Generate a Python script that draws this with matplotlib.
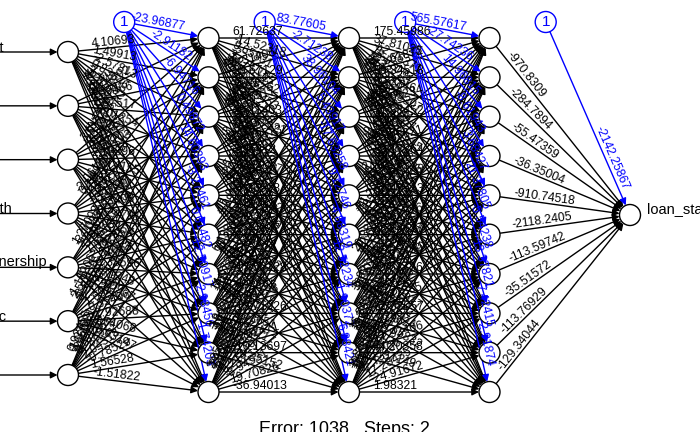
import numpy as np
import matplotlib
matplotlib.use("Agg")
import matplotlib.pyplot as plt
from matplotlib.patches import Circle

# neuralnet plot: 7 inputs -> 10 -> 10 -> 10 -> 1
inputs = ["loan_amnt", "term", "int_rate", "emp_length", "home_ownership", "annual_inc", "dti"]
output = "loan_status"
error_txt = "Error: 1038   Steps: 2"

# bias -> hidden 1
b1 = [-23.96877, -2.91182, -6.94716, 0.49872, 14.60393, -3.27461, 0.61482, -12.50917, 2.98456, -1.74203]
# input -> hidden 1 (rows = inputs)
w1 = [
    [4.10693, 1.49913, -2.57813, 0.83646, -1.64892, 3.21057, -0.98866, 2.41735, -4.06218, 1.33908],
    [-0.74892, 2.39466, 1.87517, -3.01254, 0.66921, -1.45038, 2.77612, -0.31975, 1.09483, -2.68714],
    [3.51962, -1.28457, 0.47203, 2.18896, -3.74155, 0.92681, -1.60329, 4.33017, -0.57746, 1.86542],
    [-2.06135, 0.78512, -1.95273, 1.41689, 2.63408, -0.24791, 3.08154, -1.77326, 0.38615, -3.42857],
    [1.27093, -3.10883, 2.94671, -0.56132, 1.08745, 2.51063, -2.33596, 0.71248, -1.40937, 2.20371],
    [-1.18206, 2.57839, -0.84512, 3.27406, -2.11375, 1.69232, 0.35406, -2.92688, 1.54068, -0.63147],
    [0.92455, -1.37621, 3.66084, -2.40397, 0.57268, -1.86923, 2.04318, -0.78529, 1.56528, -1.51822],
]
b2 = [83.77605, -2.71238, 38.96104, 5.43917, -17.63258, 9.12746, -4.88319, 12.52234, -1.90372, 6.88421]
w2 = [
    [61.72637, -14.52318, 9.65831, -27.40165, 3.91752, 18.26473, -6.70394, 22.85016, -11.38297, 4.57621],
    [-8.31406, 25.67129, -3.48562, 12.09453, -19.77318, 7.25814, 31.40926, -2.63175, 15.92047, -9.14836],
    [17.38264, -5.96517, 28.11403, -13.57921, 6.40295, -22.16648, 4.89137, 10.73582, -7.36219, 20.55408],
    [-3.72581, 11.84936, -16.20573, 2.96412, 24.31067, -9.84125, 13.67203, -18.42651, 5.28394, 8.01736],
    [9.54127, -21.63094, 5.17365, 19.82547, -4.36918, 14.95602, -12.04839, 3.66125, 26.71583, -6.27941],
    [-11.90264, 4.38751, 23.46019, -7.81536, 16.05328, -2.44697, 8.59143, -25.13872, 1.97654, 13.40215],
    [6.13849, 15.20573, -9.46382, 27.35016, -1.68427, 21.04391, -17.59128, 7.82465, -3.05218, 11.26537],
    [14.67201, -7.52839, 2.31946, -20.68413, 12.87095, -5.39462, 29.04158, -13.71926, 9.43651, -4.83217],
    [-18.24576, 3.09281, -12.66743, 8.47312, -26.91405, 4.70568, -3.28194, 16.52471, -10.13697, 23.35152],
    [2.85406, -24.17359, 7.96284, -5.60142, 10.38915, -15.27806, 6.21449, -8.94531, 19.70826, -36.94013],
]
b3 = [565.57617, -27.74236, 14.96815, -8.61943, 3.68427, 21.37805, -5.54238, 13.37821, 7.42415, -2.91874]
w3 = [
    [175.45986, 37.81025, -52.46371, 18.92054, -7.33518, 64.20749, 11.57632, -29.84163, 43.06295, -16.72841],
    [-23.61872, 96.34518, 8.27146, -41.59307, 27.68234, -3.95471, 55.13928, -12.40695, 19.85723, 6.43189],
    [48.92763, -15.06234, 71.38452, 4.61927, -33.27815, 22.54096, -9.71348, 38.06571, -5.24613, 12.83905],
    [-9.45137, 26.78904, -18.35621, 83.17264, 14.02538, -6.89415, 31.46702, -21.58347, 9.96218, -37.14056],
    [12.60381, -44.92175, 23.75149, -11.08326, 67.49513, 5.32871, -26.17094, 16.90258, -2.74639, 28.35417],
    [-31.27064, 7.85493, -4.16852, 35.62741, -19.40376, 58.24617, 13.89025, -8.51364, 24.67193, -14.03528],
    [20.38516, -12.64307, 41.09274, -27.95613, 8.73042, -16.28459, 49.51736, 3.14862, -34.62917, 10.27684],
    [-6.92748, 33.50186, -21.84039, 15.36924, -3.58271, 26.90143, -11.47385, 62.38057, 7.19624, -19.65832],
    [16.04953, -8.27614, 29.63478, -4.91526, 38.73091, -13.06284, 21.45837, -17.92406, 44.20358, 2.57149],
    [-2.86431, 19.72508, -36.51894, 11.64273, -15.08627, 9.35741, -7.73906, 17.28435, -24.91672, 1.98321],
]
b4 = [-2142.25867]
w4 = [[-970.8309], [-284.7894], [-55.47359], [-36.35004], [-910.74518],
      [-2118.2405], [-113.59742], [-35.51572], [-113.76929], [-129.34044]]

plt.rcParams["font.family"] = ["Liberation Sans", "DejaVu Sans"]

fig = plt.figure(figsize=(7, 4.32), dpi=100)
ax = fig.add_axes([0, 0, 1, 1])
ax.set_xlim(0, 700)
ax.set_ylim(432, 0)
ax.axis("off")

r = 10.5
layer_x = [68, 208.5, 349, 489.5, 630]
sizes = [len(inputs), len(b1), len(b2), len(b3), 1]


def node_y(n):
    if n == 1:
        return np.array([215.0])
    if n == 7:
        return np.linspace(52, 375, n)
    return np.linspace(38, 392, n)


pos = [[(layer_x[i], y) for y in node_y(n)] for i, n in enumerate(sizes)]


def fmt(v):
    return f"{round(v, 5):.5f}".rstrip("0").rstrip(".")


def arrow(p, q, col):
    ax.annotate("", xy=q, xytext=p,
                arrowprops=dict(arrowstyle="-|>", color=col, lw=1.0,
                                mutation_scale=10, shrinkA=0, shrinkB=0),
                zorder=1)


def edge(src, dst, val, col, bias=False):
    (x1, y1), (x2, y2) = src, dst
    d = np.hypot(x2 - x1, y2 - y1)
    ux, uy = (x2 - x1) / d, (y2 - y1) / d
    arrow((x1 + r * ux, y1 + r * uy), (x2 - r * ux, y2 - r * uy), col)
    ang = -np.degrees(np.arctan2(y2 - y1, x2 - x1))
    if bias:
        tx, ty, ha = x2 - 25 * ux, y2 - 25 * uy, "right"
    else:
        tx, ty, ha = x1 + 24 * ux, y1 + 24 * uy, "left"
    ax.text(tx, ty, fmt(val), rotation=ang, rotation_mode="anchor",
            ha=ha, va="bottom", fontsize=8.8, color=col, zorder=4)


weights = [w1, w2, w3, w4]
biases = [b1, b2, b3, b4]
for li in range(4):
    src_nodes, dst_nodes = pos[li], pos[li + 1]
    for i, s in enumerate(src_nodes):
        for k, t in enumerate(dst_nodes):
            edge(s, t, weights[li][i][k], "black")
    bx = layer_x[li] + 0.4 * (layer_x[li + 1] - layer_x[li])
    for k, t in enumerate(dst_nodes):
        edge((bx, 22), t, biases[li][k], "blue", bias=True)
    ax.add_patch(Circle((bx, 22), r, facecolor="white", edgecolor="blue", lw=1.0, zorder=3))
    ax.text(bx, 22.5, "1", color="blue", ha="center", va="center", fontsize=11, zorder=5)

for layer in pos:
    for (x, y) in layer:
        ax.add_patch(Circle((x, y), r, facecolor="white", edgecolor="black", lw=1.0, zorder=3))

# input arrows and labels (the names run off the left edge, as in the original)
for name, (x, y) in zip(inputs, pos[0]):
    arrow((-60, y), (x - r, y), "black")
    ax.text(-65, y - 1, name, ha="left", va="baseline", fontsize=10.5, zorder=4, clip_on=False)

ox, oy = pos[4][0]
arrow((ox + r, oy), (760, oy), "black")
ax.text(647, oy - 2, output, ha="left", va="baseline", fontsize=10.5, zorder=4)

ax.text(259, 434.5, error_txt, ha="left", va="baseline", fontsize=13, zorder=4)

fig.savefig("out.png", dpi=100)
